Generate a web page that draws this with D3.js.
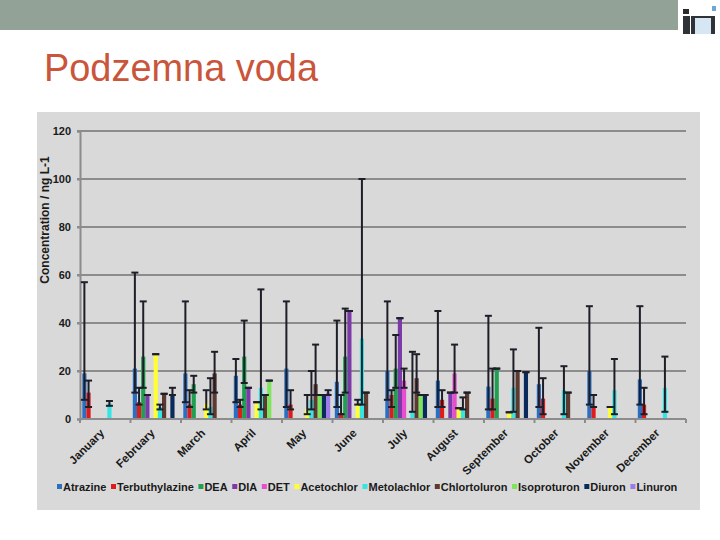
<!DOCTYPE html>
<html>
<head>
<meta charset="utf-8">
<script src="https://cdn.jsdelivr.net/npm/d3@7"></script>
<style>
  body { margin: 0; background: #ffffff; }
  svg text { font-family: "Liberation Sans", Arial, sans-serif; }
</style>
</head>
<body>
<div id="chart"></div>
<script>
// months on the x axis
var months = ['January', 'February', 'March', 'April', 'May', 'June', 'July',
              'August', 'September', 'October', 'November', 'December'];
var seriesNames = ['Atrazine', 'Terbuthylazine', 'DEA', 'DIA', 'DET', 'Acetochlor',
                   'Metolachlor', 'Chlortoluron', 'Isoproturon', 'Diuron', 'Linuron'];
var seriesColors = ['#2a6fc0', '#e01b1b', '#1fa050', '#7a3aa8', '#e84dd0', '#ffff33',
                    '#33e5e5', '#5c3a30', '#7de55a', '#0a2a5c', '#9b7ce8'];
var yTicks = [0, 20, 40, 60, 80, 100, 120];

// mean per series (rows) and month (columns), null = not detected
var meanVals = [
  [19, 21, 19, 18, 21, 15.5, 20, 16, 13.5, 14.5, 20, 16.5],
  [11, 7, 6, 6, 6, 2.5, 10, 8, 8.5, 8.5, 5, 6],
  [null, 26, 14.5, 26, null, 26, 21, null, 21, null, null, null],
  [null, 10, null, 13, null, 45, 42, 11, null, null, null, null],
  [null, null, null, null, null, null, 16, 19, null, null, null, null],
  [null, 27, 6.5, 7, 4, 6, null, 4.5, 2.8, null, 5, null],
  [6.5, 5, 5, 13, 8, 33.5, 3, 4, 13, 12, 12, 13],
  [null, 10.5, 19, 10, 14.5, 11, 17, 11, 20, 11, null, null],
  [null, null, null, 16, 10, null, 10, null, null, null, null, null],
  [null, 10, null, null, 10, null, 10, null, 19.5, null, null, null],
  [null, null, null, null, 11, null, null, null, null, null, null, null]
];
// lower end of the error bar
var lowVals = [
  [8, 11, 7, 7, 5, 5, 8, 5, 4, 5, 6, 6],
  [5, 6, 5, 5, 4, 2, 5, 5, 4, 2, 5, 2],
  [null, 13, 11, 15, null, 11, 13, null, 21, null, null, null],
  [null, 10, null, 13, null, 45, 42, 11, null, null, null, null],
  [null, null, null, null, null, null, 13, 11, null, null, null, null],
  [null, 27, 4, 7, 2, 6, null, 4.5, 2.8, null, 5, null],
  [5.5, 4, 2, 4, 4, 6, 3, 4, 3, 2, 2, 3],
  [null, 10.5, 11, 10, 10, 11, 11, 11, 20, 11, null, null],
  [null, null, null, 16, 10, null, 10, null, null, null, null, null],
  [null, 10, null, null, 10, null, 10, null, 19.5, null, null, null],
  [null, null, null, null, 10, null, null, null, null, null, null, null]
];
// upper end of the error bar
var highVals = [
  [57, 61, 49, 25, 49, 41, 49, 45, 43, 38, 47, 47],
  [16, 13, 12, 8, 12, 10, 12, 12, 21, 17, 10, 13],
  [null, 49, 18, 41, null, 46, 35, null, 21, null, null, null],
  [null, 10, null, 13, null, 45, 42, 11, null, null, null, null],
  [null, null, null, null, null, null, 21, 31, null, null, null, null],
  [null, 27, 12, 7, 10, 8, null, 4.5, 2.8, null, 5, null],
  [7.5, 6, 17, 54, 20, 100, 28, 9, 29, 22, 25, 26],
  [null, 10.5, 28, 10, 31, 11, 27, 11, 20, 11, null, null],
  [null, null, null, 16, 10, null, 10, null, null, null, null, null],
  [null, 13, null, null, 10, null, 10, null, 19.5, null, null, null],
  [null, null, null, null, 12, null, null, null, null, null, null, null]
];

var W = 720, H = 540;
var plot = {'left': 80, 'right': 686, 'top': 131, 'bottom': 419};

var svg = d3.select('#chart').append('svg')
            .attr('width', W).attr('height', H);

// slide header bar + logo
svg.append('rect').attr('x', 0).attr('y', 0).attr('width', 678).attr('height', 30)
   .attr('fill', '#93a297');
var logo = svg.append('g').attr('transform', 'translate(682,5)');
logo.append('rect').attr('x', 1).attr('y', 4).attr('width', 6).attr('height', 5).attr('fill', '#2b2b2b');
logo.append('rect').attr('x', 1).attr('y', 11).attr('width', 7).attr('height', 18).attr('fill', '#2f3236');
logo.append('rect').attr('x', 9).attr('y', 11).attr('width', 24).attr('height', 18).attr('fill', '#2f3236');
logo.append('rect').attr('x', 13).attr('y', 13).attr('width', 16).attr('height', 16).attr('fill', '#d6e6f2');
logo.append('rect').attr('x', 30).attr('y', 1).attr('width', 4).attr('height', 5).attr('fill', '#6ea6d8');

// title
svg.append('text').attr('x', 44).attr('y', 81)
   .style('font-size', '39px').attr('fill', '#c9553b')
   .attr('textLength', 274).attr('lengthAdjust', 'spacingAndGlyphs')
   .text('Podzemna voda');

// chart background
svg.append('rect').attr('x', 37).attr('y', 112).attr('width', 663).attr('height', 398)
   .attr('fill', '#d9d9d9');

var x = d3.scaleBand().domain(months).range([plot.left, plot.right]).padding(0);
var xs = d3.scaleBand().domain(seriesNames).range([0, x.bandwidth()])
           .paddingInner(0).paddingOuter(0.55);
var y = d3.scaleLinear().domain([0, 120]).range([plot.bottom, plot.top]);

// gridlines
svg.append('g').selectAll('line').data(yTicks.slice(1)).join('line')
   .attr('x1', plot.left - 3).attr('x2', plot.right)
   .attr('y1', function (d) { return y(d); }).attr('y2', function (d) { return y(d); })
   .attr('stroke', '#8c8c8c').attr('stroke-width', 2);

// y axis
var yAxis = svg.append('g').attr('transform', 'translate(' + plot.left + ',0)')
               .call(d3.axisLeft(y).tickValues(yTicks).tickSize(3).tickPadding(6));
yAxis.select('.domain').attr('stroke', '#8c8c8c').attr('stroke-width', 2);
yAxis.selectAll('.tick line').attr('stroke', '#8c8c8c').attr('stroke-width', 2);
yAxis.selectAll('text').style('font-size', '11px').style('font-weight', 'bold').attr('fill', '#1a1a1a');

// flatten into one record per bar
var bars = [];
for (var s = 0; s < seriesNames.length; s++) {
    for (var m = 0; m < months.length; m++) {
        if (meanVals[s][m] === null) continue;
        bars.push({series: s, month: m, v: meanVals[s][m],
                   lo: lowVals[s][m], hi: highVals[s][m]});
    }
}
function barX(d) { return x(months[d.month]) + xs(seriesNames[d.series]); }

svg.append('g').selectAll('rect').data(bars).join('rect')
   .attr('x', barX)
   .attr('y', function (d) { return y(d.v); })
   .attr('width', xs.bandwidth())
   .attr('height', function (d) { return y(0) - y(d.v); })
   .attr('fill', function (d) { return seriesColors[d.series]; });

// error bars (min / max)
var err = svg.append('g').attr('stroke', '#1e1e28').attr('stroke-width', 2);
bars.forEach(function (d) {
    var cx = barX(d) + xs.bandwidth() / 2;
    if (d.hi !== d.lo) {
        err.append('line').attr('x1', cx).attr('x2', cx)
           .attr('y1', y(d.lo)).attr('y2', y(d.hi));
    }
    [d.lo, d.hi].forEach(function (e) {
        err.append('line').attr('x1', cx - 3.5).attr('x2', cx + 3.5)
           .attr('y1', y(e)).attr('y2', y(e));
    });
});

// x axis
var xAxis = svg.append('g').attr('transform', 'translate(0,' + plot.bottom + ')');
xAxis.append('line').attr('x1', plot.left).attr('x2', plot.right)
     .attr('stroke', '#8c8c8c').attr('stroke-width', 2);
xAxis.selectAll('.tk').data(d3.range(months.length + 1)).join('line')
     .attr('class', 'tk')
     .attr('x1', function (i) { return plot.left + i * x.step(); })
     .attr('x2', function (i) { return plot.left + i * x.step(); })
     .attr('y1', 0).attr('y2', 4)
     .attr('stroke', '#8c8c8c').attr('stroke-width', 2);
xAxis.selectAll('text').data(months).join('text')
     .attr('transform', function (d) {
         return 'translate(' + (x(d) + x.bandwidth() / 2 - 6) + ',9) rotate(-45)';
     })
     .attr('text-anchor', 'end').attr('dy', '0.7em')
     .style('font-size', '11.5px').style('font-weight', 'bold').attr('fill', '#1a1a1a')
     .text(function (d) { return d; });

// y axis title
svg.append('text').attr('transform', 'translate(49,220) rotate(-90)')
   .attr('text-anchor', 'middle')
   .style('font-size', '12px').style('font-weight', 'bold').attr('fill', '#1a1a1a')
   .text('Concentration / ng L-1');

// legend, laid out left to right
var legend = svg.append('g');
var lx = 57;
seriesNames.forEach(function (name, i) {
    legend.append('rect').attr('x', lx).attr('y', 484).attr('width', 5).attr('height', 5)
          .attr('fill', seriesColors[i]);
    var t = legend.append('text').attr('x', lx + 6).attr('y', 491)
                  .style('font-size', '11px').style('font-weight', 'bold').attr('fill', '#1a1a1a')
                  .text(name);
    lx += 6 + t.node().getComputedTextLength() + 4.6;
});
</script>
</body>
</html>
